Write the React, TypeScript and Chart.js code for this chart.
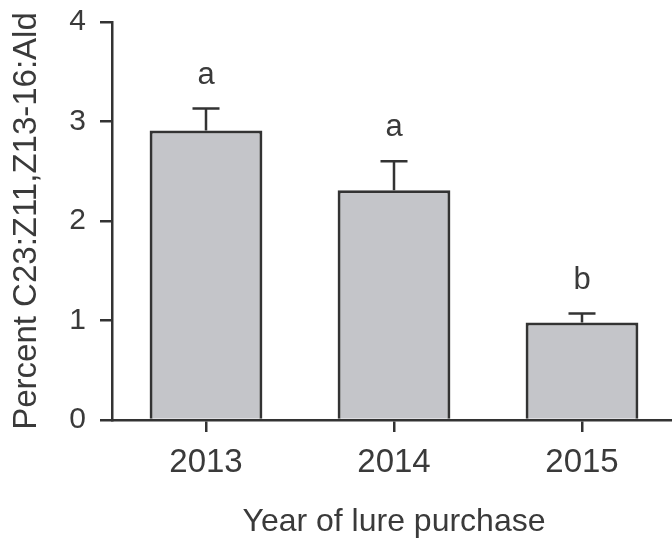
import React, { useEffect, useRef } from "react";
import { Chart, registerables } from "chart.js";

Chart.register(...registerables);

const years = ["2013", "2014", "2015"];
const meanPercent = [2.91, 2.31, 0.98];
const stdError = [0.22, 0.29, 0.09];
const groupLetters = ["a", "a", "b"];

const TEXT = "#3a3a3a";
const AXIS = "#333333";
const BAR_FILL = "#c4c5c9";
const FONT = "Arial, 'Liberation Sans', Helvetica, sans-serif";

const errorBarPlugin = {
  id: "errorBars",
  afterDatasetsDraw(chart: any) {
    const ctx = chart.ctx;
    const meta = chart.getDatasetMeta(0);
    const y = chart.scales.y;
    ctx.save();
    meta.data.forEach((bar: any, i: number) => {
      const x = bar.x;
      const top = y.getPixelForValue(meanPercent[i]);
      const errTop = y.getPixelForValue(meanPercent[i] + stdError[i]);
      ctx.strokeStyle = AXIS;
      ctx.lineWidth = 2.5;
      ctx.beginPath();
      ctx.moveTo(x, top);
      ctx.lineTo(x, errTop);
      ctx.moveTo(x - 13.5, errTop);
      ctx.lineTo(x + 13.5, errTop);
      ctx.stroke();
      ctx.fillStyle = TEXT;
      ctx.font = `31px ${FONT}`;
      ctx.textAlign = "center";
      ctx.textBaseline = "alphabetic";
      ctx.fillText(groupLetters[i], x, errTop - 25);
    });
    ctx.restore();
  },
};

export default function App() {
  const ref = useRef<HTMLCanvasElement>(null);

  useEffect(() => {
    if (!ref.current) return;
    const chart = new Chart(ref.current, {
      type: "bar",
      data: {
        labels: years,
        datasets: [
          {
            data: meanPercent,
            backgroundColor: BAR_FILL,
            borderColor: AXIS,
            borderWidth: 3,
            barPercentage: 0.6,
            categoryPercentage: 1,
          },
        ],
      },
      options: {
        responsive: false,
        animation: false,
        devicePixelRatio: 1,
        layout: { padding: { top: 22, right: 14, left: 0, bottom: 0 } },
        plugins: {
          legend: { display: false },
          tooltip: { enabled: false },
        },
        scales: {
          x: {
            offset: true,
            grid: {
              offset: false,
              drawOnChartArea: false,
              drawTicks: true,
              tickLength: 12,
              color: AXIS,
              lineWidth: 2.5,
            },
            border: { display: true, color: AXIS, width: 2.5 },
            ticks: {
              color: TEXT,
              font: { family: FONT, size: 33 },
              padding: 11,
              maxRotation: 0,
            },
            title: {
              display: true,
              text: "Year of lure purchase",
              color: TEXT,
              font: { family: FONT, size: 32 },
              padding: { top: 0, bottom: 3 },
            },
            afterFit(scale: any) {
              scale.height = 124;
              scale.paddingLeft = 0;
              scale.paddingRight = 0;
            },
          },
          y: {
            min: 0,
            max: 4,
            grid: {
              drawOnChartArea: false,
              drawTicks: true,
              tickLength: 12,
              color: AXIS,
              lineWidth: 2.5,
            },
            border: { display: true, color: AXIS, width: 2.5 },
            ticks: {
              stepSize: 1,
              color: TEXT,
              font: { family: FONT, size: 30 },
              padding: 14,
            },
            title: {
              display: true,
              text: "Percent C23:Z11,Z13-16:Ald",
              color: TEXT,
              font: { family: FONT, size: 33 },
              padding: { top: 7, bottom: 0 },
            },
            afterFit(scale: any) {
              scale.width = 112;
              scale.paddingTop = 0;
              scale.paddingBottom = 0;
            },
          },
        },
      },
      plugins: [errorBarPlugin],
    });
    return () => chart.destroy();
  }, []);

  return (
    <div
      style={{
        position: "fixed",
        left: 0,
        top: 0,
        width: 672,
        height: 544,
        overflow: "hidden",
        background: "#ffffff",
      }}
    >
      <canvas
        ref={ref}
        width={690}
        height={544}
        style={{ width: 690, height: 544, display: "block" }}
      />
    </div>
  );
}
